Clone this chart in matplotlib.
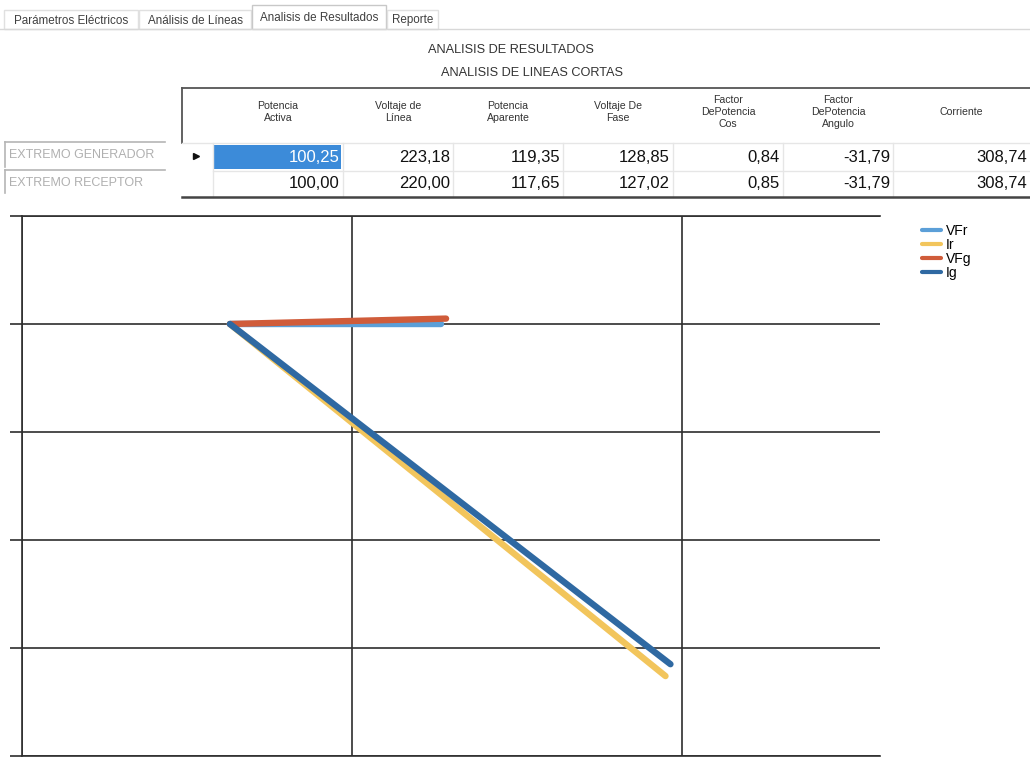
import matplotlib
matplotlib.use("Agg")
import matplotlib.pyplot as plt
from matplotlib.patches import Rectangle

plt.rcParams['font.family'] = ['Liberation Sans', 'DejaVu Sans']

# Datos de la pantalla
tabs = ["Parámetros Eléctricos", "Análisis de Líneas", "Analisis de Resultados", "Reporte"]
column_headers = ["Potencia\nActiva", "Voltaje de\nLínea", "Potencia\nAparente", "Voltaje De\nFase",
                  "Factor\nDePotencia\nCos", "Factor\nDePotencia\nAngulo", "Corriente"]
row_labels = ["EXTREMO GENERADOR", "EXTREMO RECEPTOR"]
generador = [100.25, 223.18, 119.35, 128.85, 0.84, -31.79, 308.74]
receptor = [100.00, 220.00, 117.65, 127.02, 0.85, -31.79, 308.74]

# Fasores (dos puntos por serie)
series_names = ["VFr", "Ir", "VFg", "Ig"]
series_x = [[63, 127], [63, 195], [63, 128.5], [63, 196.5]]
series_y = [[0, 0], [0, -326], [0, 5], [0, -315]]
series_colors = ["#5b9fd8", "#f2c55c", "#d05c3a", "#2f69a2"]

fig = plt.figure(figsize=(10.30, 7.58), dpi=100)

# capa de interfaz en coordenadas de pixel
ui = fig.add_axes([0, 0, 1, 1])
ui.set_xlim(0, 1030)
ui.set_ylim(758, 0)
ui.axis("off")

# pestañas
tab_edges = [(4, 138), (139, 251), (252, 386), (387, 438)]
ui.plot([0, 1030], [29, 29], color="#d8d8d8", lw=1)
for i, (name, (x0, x1)) in enumerate(zip(tabs, tab_edges)):
    top = 5 if i == 2 else 10
    edge = "#c8c8c8" if i == 2 else "#e0e0e0"
    ui.add_patch(Rectangle((x0, top), x1 - x0, 29 - top, facecolor="white",
                           edgecolor=edge, lw=1))
    ui.text((x0 + x1) / 2, (top + 29) / 2 + 1, name, fontsize=8.4, color="#404040",
            ha="center", va="center")

# titulos
ui.text(511, 50, "ANALISIS DE RESULTADOS", fontsize=9.2, color="#333333", ha="center", va="center")
ui.text(532, 73, "ANALISIS DE LINEAS CORTAS", fontsize=9.2, color="#333333", ha="center", va="center")

# tabla
col_edges = [213, 343, 453, 563, 673, 783, 893, 1030]
ui.plot([182, 1030], [88, 88], color="#555555", lw=1.3)
ui.plot([182, 182], [88, 143], color="#555555", lw=1.3)
for x in col_edges[:-1]:
    ui.plot([x, x], [143, 197], color="#e6e6e6", lw=1)
ui.plot([182, 1030], [143, 143], color="#e6e6e6", lw=1)
ui.plot([213, 1030], [171, 171], color="#e6e6e6", lw=1)
ui.plot([182, 1030], [197, 197], color="#444444", lw=1.8)

for j, head in enumerate(column_headers):
    cx = (col_edges[j] + col_edges[j + 1]) / 2
    ui.text(cx, 112, head, fontsize=7.6, color="#333333", ha="center", va="center",
            linespacing=1.2)

ui.add_patch(Rectangle((214, 145), 127, 24, facecolor="#3c8bd9", edgecolor="none"))
for r, (vals, cy) in enumerate(zip([generador, receptor], [157, 184])):
    for j, v in enumerate(vals):
        txt = f"{v:.2f}".replace(".", ",")
        color = "white" if (r == 0 and j == 0) else "#111111"
        ui.text(col_edges[j + 1] - 3, cy, txt, fontsize=12, color=color,
                ha="right", va="center")
ui.plot([196], [156], marker=">", color="#111111", markersize=4)

# etiquetas de filas
for label, (y0, y1) in zip(row_labels, [(142, 167), (170, 193)]):
    ui.plot([5, 165], [y0, y0], color="#b5b5b5", lw=1.2)
    ui.plot([5, 5], [y0, y1], color="#b5b5b5", lw=1.2)
    ui.text(9, (y0 + y1) / 2 + 1, label, fontsize=9, color="#b0b0b0", ha="left", va="center")

# grafico de fasores
ax = fig.add_axes([22 / 1030, 2 / 758, 858 / 1030, 540 / 758])
ax.set_facecolor("none")
for name, xs, ys, c in zip(series_names, series_x, series_y, series_colors):
    ax.plot(xs, ys, color=c, lw=4.6, solid_capstyle="round", label=name)

ax.set_xlim(0, 260)
ax.set_ylim(-400, 100)
ax.set_xticks([0, 100, 200])
ax.set_yticks([-400, -300, -200, -100, 0, 100])
ax.set_xticklabels([])
ax.set_yticklabels([])
ax.grid(True, color="#2e2e2e", lw=1.2)
ax.set_axisbelow(True)
ax.tick_params(axis="y", length=9, width=1.2, color="#2e2e2e")
ax.tick_params(axis="x", length=0)
ax.spines["right"].set_visible(False)
for s in ["top", "left", "bottom"]:
    ax.spines[s].set_color("#2e2e2e")
    ax.spines[s].set_linewidth(1.2)

ax.legend(loc="upper left", bbox_to_anchor=(915 / 1030, 1 - 217 / 758),
          bbox_transform=fig.transFigure, frameon=False, fontsize=10,
          handlelength=1.4, handletextpad=0.3, labelspacing=0.0, borderpad=0)
for line in ax.get_legend().get_lines():
    line.set_linewidth(3)

plt.savefig("out.png", dpi=100)
plt.close()
